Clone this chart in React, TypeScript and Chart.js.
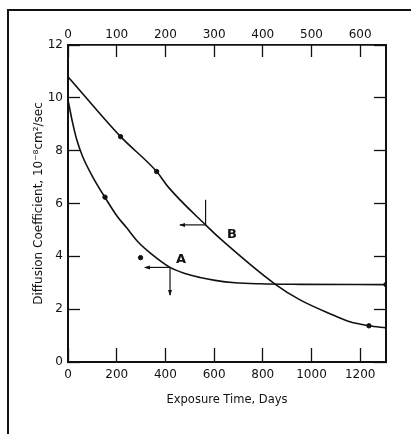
import React, { useEffect, useRef } from 'react';
import { Chart, registerables } from 'chart.js';

Chart.register(...registerables);

// Curve A (smooth fitted line)
const curveADays = [0, 19, 36, 60, 99, 152, 201, 241, 287, 337, 419, 480, 542, 604, 686, 788, 953, 1306];
const curveAValues = [9.92, 9.05, 8.41, 7.78, 7.05, 6.23, 5.53, 5.08, 4.55, 4.13, 3.58, 3.35, 3.2, 3.09, 3.0, 2.96, 2.94, 2.93];
// Curve B (smooth fitted line)
const curveBDays = [0, 216, 364, 412, 565, 631, 850, 953, 1088, 1158, 1236, 1306];
const curveBValues = [10.8, 8.53, 7.21, 6.62, 5.19, 4.62, 2.95, 2.35, 1.78, 1.52, 1.37, 1.29];
// Measured points
const pointsADays = [152, 298, 1306];
const pointsAValues = [6.24, 3.95, 2.93];
const pointsBDays = [216, 364, 1236];
const pointsBValues = [8.53, 7.21, 1.37];
// Axis ranges / ticks
const xMaxDays = 1306;
const xStep = 200;
const topMax = 653;
const topStep = 100;
const yMax = 12;
const yStep = 2;
// Annotations: arrow origin (day, value), horizontal arrow end day, vertical arrow end value
const arrowLabels = ['A', 'B'];
const arrowDays = [419, 565];
const arrowValues = [3.58, 5.19];
const arrowLeftDays = [316, 460];
const arrowVertEnd = [2.54, 6.14];
const arrowVertHead = [true, false];
const labelDays = [464, 673];
const labelValues = [3.86, 4.81];

const FONT = 'DejaVu Sans';
const INK = '#111';

const annotationPlugin = {
  id: 'annot',
  afterDraw(chart: any) {
    const { ctx, scales } = chart;
    const xs = scales.x;
    const ys = scales.y;
    ctx.save();
    // outer frame (page border of scanned figure)
    ctx.strokeStyle = INK;
    ctx.lineWidth = 2;
    ctx.beginPath();
    ctx.moveTo(8, 434);
    ctx.lineTo(8, 10);
    ctx.lineTo(411, 10);
    ctx.stroke();

    ctx.lineWidth = 1.2;
    ctx.fillStyle = INK;
    for (let i = 0; i < arrowLabels.length; i++) {
      const px = xs.getPixelForValue(arrowDays[i]);
      const py = ys.getPixelForValue(arrowValues[i]);
      const lx = xs.getPixelForValue(arrowLeftDays[i]);
      const vy = ys.getPixelForValue(arrowVertEnd[i]);
      // horizontal arrow
      ctx.beginPath();
      ctx.moveTo(px, py);
      ctx.lineTo(lx, py);
      ctx.stroke();
      ctx.beginPath();
      ctx.moveTo(lx - 1, py);
      ctx.lineTo(lx + 5, py - 2);
      ctx.lineTo(lx + 5, py + 2);
      ctx.closePath();
      ctx.fill();
      // vertical line
      ctx.beginPath();
      ctx.moveTo(px, py);
      ctx.lineTo(px, vy);
      ctx.stroke();
      if (arrowVertHead[i]) {
        ctx.beginPath();
        ctx.moveTo(px, vy + 1);
        ctx.lineTo(px - 2, vy - 5);
        ctx.lineTo(px + 2, vy - 5);
        ctx.closePath();
        ctx.fill();
      }
      // label
      ctx.font = `bold 13px "${FONT}"`;
      ctx.textAlign = 'center';
      ctx.textBaseline = 'middle';
      ctx.fillText(arrowLabels[i], xs.getPixelForValue(labelDays[i]), ys.getPixelForValue(labelValues[i]));
    }
    ctx.restore();
  },
};

export default function App() {
  const ref = useRef<HTMLCanvasElement | null>(null);

  useEffect(() => {
    if (!ref.current) return;
    const toXY = (xs: number[], ys: number[]) => xs.map((x, i) => ({ x, y: ys[i] }));
    const tickFont = { family: FONT, size: 12 };
    const plain = (v: any) => String(v);
    const chart = new Chart(ref.current, {
      type: 'line',
      data: {
        datasets: [
          {
            label: 'A',
            data: toXY(curveADays, curveAValues),
            borderColor: INK,
            borderWidth: 1.6,
            pointRadius: 0,
            cubicInterpolationMode: 'monotone',
            fill: false,
          },
          {
            label: 'B',
            data: toXY(curveBDays, curveBValues),
            borderColor: INK,
            borderWidth: 1.6,
            pointRadius: 0,
            cubicInterpolationMode: 'monotone',
            fill: false,
          },
          {
            label: 'A points',
            data: toXY(pointsADays, pointsAValues),
            showLine: false,
            pointRadius: 2.2,
            pointBackgroundColor: INK,
            pointBorderColor: INK,
            borderColor: INK,
          },
          {
            label: 'B points',
            data: toXY(pointsBDays, pointsBValues),
            showLine: false,
            pointRadius: 2.2,
            pointBackgroundColor: INK,
            pointBorderColor: INK,
            borderColor: INK,
          },
        ],
      },
      options: {
        animation: false,
        responsive: false,
        events: [],
        layout: { padding: 0 },
        plugins: { legend: { display: false }, tooltip: { enabled: false } },
        scales: {
          x: {
            type: 'linear',
            position: 'bottom',
            min: 0,
            max: xMaxDays,
            afterFit: (s: any) => { s.height = 72; },
            ticks: { stepSize: xStep, includeBounds: false, maxRotation: 0, autoSkip: false, padding: 20, color: INK, font: tickFont, callback: plain },
            grid: { drawOnChartArea: false, drawTicks: true, tickLength: -14, tickColor: INK, tickWidth: 1.3 },
            border: { display: true, color: INK, width: 2 },
            title: { display: true, text: 'Exposure Time, Days', color: INK, font: { family: FONT, size: 11.5 }, padding: { top: 0, bottom: 27 } },
          },
          x2: {
            type: 'linear',
            position: 'top',
            min: 0,
            max: topMax,
            afterFit: (s: any) => { s.height = 45; },
            ticks: { stepSize: topStep, includeBounds: false, maxRotation: 0, autoSkip: false, padding: 15, color: INK, font: tickFont, callback: plain },
            grid: { drawOnChartArea: false, drawTicks: true, tickLength: -12, tickColor: INK, tickWidth: 1.3 },
            border: { display: true, color: INK, width: 1.8 },
          },
          y: {
            type: 'linear',
            position: 'left',
            min: 0,
            max: yMax,
            afterFit: (s: any) => { s.width = 68; },
            ticks: { stepSize: yStep, includeBounds: false, autoSkip: false, padding: 17, color: INK, font: tickFont, callback: plain },
            grid: { drawOnChartArea: false, drawTicks: true, tickLength: -12, tickColor: INK, tickWidth: 1.3 },
            border: { display: true, color: INK, width: 2 },
            title: { display: true, text: 'Diffusion Coefficient, 10⁻⁸cm²/sec', color: INK, font: { family: FONT, size: 12 }, padding: { top: 32, bottom: 0 } },
          },
          y2: {
            type: 'linear',
            position: 'right',
            min: 0,
            max: yMax,
            afterFit: (s: any) => { s.width = 25; },
            ticks: { stepSize: yStep, includeBounds: false, autoSkip: false, padding: 0, callback: () => '', font: tickFont },
            grid: { drawOnChartArea: false, drawTicks: true, tickLength: -12, tickColor: INK, tickWidth: 1.3 },
            border: { display: true, color: INK, width: 2 },
          },
        },
      } as any,
      plugins: [annotationPlugin],
    });
    return () => chart.destroy();
  }, []);

  return (
    <div style={{ position: 'absolute', left: 0, top: 0, width: 411, height: 434, background: '#fff' }}>
      <canvas ref={ref} width={411} height={434} style={{ display: 'block' }} />
    </div>
  );
}
